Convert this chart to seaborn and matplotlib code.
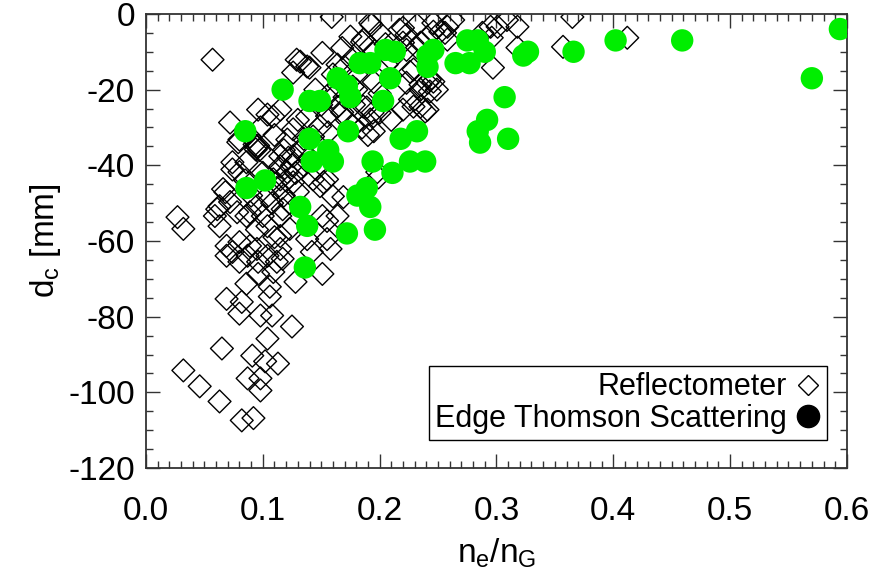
import numpy as np
import pandas as pd
import matplotlib
matplotlib.use("Agg")
import matplotlib.pyplot as plt
import seaborn as sns
from matplotlib.lines import Line2D

sns.set_style("ticks")
plt.rcParams.update({
    "font.family": ["Liberation Sans", "DejaVu Sans"],
    "mathtext.default": "regular",
    "axes.unicode_minus": False,
    "text.color": "black",
    "axes.labelcolor": "black",
    "xtick.color": "black",
    "ytick.color": "black",
})

# Reflectometer (open diamonds): n_e/n_G, d_c [mm]
refl_x = [0.057, 0.159, 0.193, 0.220, 0.232, 0.246, 0.258, 0.263, 0.295, 0.132,
          0.151, 0.140, 0.164, 0.185, 0.192, 0.206, 0.223, 0.241, 0.226, 0.241,
          0.229, 0.241, 0.194, 0.189, 0.177, 0.096, 0.104, 0.115, 0.072, 0.080,
          0.093, 0.095, 0.097, 0.094, 0.096, 0.121, 0.126, 0.138, 0.149, 0.156,
          0.143, 0.074, 0.080, 0.115, 0.121, 0.126, 0.115, 0.109, 0.126, 0.143,
          0.149, 0.068, 0.063, 0.078, 0.027, 0.032, 0.059, 0.063, 0.089, 0.100,
          0.104, 0.115, 0.155, 0.169, 0.151, 0.198, 0.069, 0.089, 0.115, 0.155,
          0.069, 0.080, 0.087, 0.096, 0.104, 0.112, 0.117, 0.096, 0.086, 0.109,
          0.106, 0.106, 0.128, 0.151, 0.142, 0.158, 0.069, 0.082, 0.080, 0.098,
          0.108, 0.125, 0.104, 0.065, 0.091, 0.102, 0.113, 0.032, 0.087, 0.098,
          0.098, 0.046, 0.063, 0.082, 0.092, 0.365, 0.357, 0.412, 0.309, 0.318,
          0.297, 0.296, 0.318, 0.258, 0.252, 0.223, 0.232, 0.246, 0.239, 0.226,
          0.235, 0.243, 0.288, 0.079, 0.074, 0.086, 0.066, 0.061, 0.072, 0.086,
          0.095, 0.104, 0.115, 0.117, 0.123, 0.138, 0.160, 0.146, 0.155, 0.164,
          0.080, 0.095, 0.074, 0.115, 0.192, 0.186, 0.217, 0.246, 0.256, 0.220,
          0.235, 0.194, 0.229, 0.223, 0.235, 0.243, 0.249, 0.235, 0.220, 0.200,
          0.186, 0.192, 0.177, 0.158, 0.164, 0.301, 0.129, 0.138, 0.126, 0.109,
          0.089, 0.199, 0.152, 0.118, 0.122, 0.125, 0.128, 0.120, 0.130, 0.112,
          0.118, 0.108, 0.123, 0.133, 0.135, 0.140, 0.170, 0.168, 0.172, 0.178,
          0.180, 0.176, 0.170, 0.180, 0.165, 0.160, 0.185, 0.190, 0.195, 0.200,
          0.205, 0.210, 0.200, 0.175, 0.168, 0.160, 0.145, 0.150, 0.155, 0.100,
          0.105, 0.110, 0.098, 0.085, 0.090, 0.095, 0.110, 0.130, 0.135, 0.195,
          0.210]
refl_y = [-12.1, -0.8, -2.9, -3.7, -2.9, -4.7, -3.4, -1.6, -3.4, -12.6,
          -10.3, -14.2, -13.4, -7.4, -8.7, -13.4, -9.5, -6.1, -15.3, -18.2,
          -24.5, -25.3, -26.1, -24.7, -19.2, -25.3, -26.6, -25.3, -28.7, -33.2,
          -34.5, -35.0, -36.0, -35.8, -34.8, -33.2, -30.5, -27.1, -29.7, -31.3,
          -32.4, -39.2, -41.8, -40.3, -41.8, -37.6, -37.6, -43.7, -44.5, -43.7,
          -45.5, -47.1, -50.8, -52.4, -53.7, -56.8, -53.4, -56.1, -52.4, -53.4,
          -56.1, -53.4, -54.7, -48.4, -53.4, -41.8, -61.3, -61.3, -58.7, -59.5,
          -63.9, -65.5, -63.9, -65.5, -63.9, -65.5, -64.7, -68.7, -71.3, -68.2,
          -72.1, -74.7, -70.8, -68.7, -62.9, -62.1, -75.3, -76.1, -79.2, -79.7,
          -79.7, -82.6, -85.8, -88.4, -90.3, -91.8, -92.4, -94.2, -96.3, -96.3,
          -99.5, -98.4, -102.4, -107.4, -106.8, -0.8, -8.7, -6.3, -1.6, -3.4,
          -14.2, -6.3, -8.9, -6.8, -4.7, -5.5, -8.9, -17.9, -25.8, -22.6,
          -18.7, -20.5, -5.0, -33.9, -41.1, -39.2, -46.3, -51.6, -49.7, -53.4,
          -50.8, -48.2, -43.7, -51.6, -56.8, -59.5, -48.2, -41.1, -43.7, -53.4,
          -60.3, -62.1, -62.9, -62.1, -2.4, -6.8, -4.2, -2.4, -5.0, -7.6,
          -7.6, -10.3, -14.7, -18.2, -20.0, -17.4, -20.0, -24.5, -25.3, -26.1,
          -24.5, -27.9, -29.7, -20.8, -24.5, -3.4, -12.1, -13.9, -15.5, -27.1,
          -32.4, -43.2, -44.5, -36.0, -38.0, -40.0, -42.0, -44.0, -47.0, -46.0,
          -48.0, -50.0, -50.0, -36.0, -40.0, -38.0, -22.0, -26.0, -28.0, -24.0,
          -16.0, -12.0, -14.0, -20.0, -19.0, -22.0, -30.0, -32.0, -18.0, -21.0,
          -8.0, -12.0, -5.0, -6.0, -9.0, -16.0, -20.0, -24.0, -27.0, -42.0,
          -38.0, -32.0, -30.0, -44.0, -48.0, -57.0, -59.0, -28.0, -33.0, -31.0,
          -28.0]

# Edge Thomson Scattering (filled green circles)
ets_x = [0.085, 0.086, 0.102, 0.117, 0.132, 0.138, 0.136, 0.140, 0.149, 0.140,
         0.142, 0.156, 0.160, 0.164, 0.172, 0.175, 0.173, 0.172, 0.183, 0.192,
         0.205, 0.213, 0.209, 0.203, 0.194, 0.181, 0.189, 0.192, 0.196, 0.211,
         0.218, 0.232, 0.226, 0.239, 0.241, 0.246, 0.241, 0.265, 0.277, 0.275,
         0.284, 0.290, 0.307, 0.292, 0.284, 0.286, 0.310, 0.323, 0.327, 0.366,
         0.402, 0.459, 0.570, 0.594]
ets_y = [-31, -46, -44, -20, -51, -56, -67, -23, -23, -33,
         -39, -36, -39, -17, -19, -22, -31, -58, -13, -13,
         -9.5, -10, -17, -23, -39, -48, -46, -51, -57, -42,
         -33, -31, -39, -39, -11, -9.5, -14, -13, -13, -7,
         -7, -10, -22, -28, -31, -34, -33, -11, -10, -10,
         -7, -7, -17, -4]

df_refl = pd.DataFrame({"ne_nG": refl_x, "dc": refl_y})
df_ets = pd.DataFrame({"ne_nG": ets_x, "dc": ets_y})

fig = plt.figure(figsize=(8.74, 5.8), dpi=100)
ax = fig.add_axes([0.167, 0.193, 0.802, 0.783])

sns.scatterplot(data=df_refl, x="ne_nG", y="dc", ax=ax, marker="D", s=135,
                facecolor="none", edgecolor="black", linewidth=1.0, zorder=2)
sns.scatterplot(data=df_ets, x="ne_nG", y="dc", ax=ax, marker="o", s=260,
                color="#00ee00", edgecolor="none", linewidth=0, zorder=3)

ax.set_xlim(0, 0.6)
ax.set_ylim(-120, 0)
ax.set_xticks(np.arange(0, 0.61, 0.1))
ax.set_xticklabels(["0.0", "0.1", "0.2", "0.3", "0.4", "0.5", "0.6"])
ax.set_yticks(np.arange(-120, 1, 20))
ax.xaxis.set_minor_locator(plt.MultipleLocator(0.01))
ax.yaxis.set_minor_locator(plt.MultipleLocator(5))
ax.tick_params(which="both", direction="in", top=True, right=True,
               color="#333333", width=1)
ax.tick_params(which="major", length=10, labelsize=24)
ax.tick_params(which="minor", length=5)
ax.tick_params(axis="x", which="major", pad=20)
ax.tick_params(axis="y", which="major", pad=8)
for sp in ax.spines.values():
    sp.set_linewidth(1.3)
    sp.set_color("#333333")

ax.set_xlabel("$n_e/n_G$", fontsize=24, labelpad=7)
ax.set_ylabel("$d_c$ [mm]", fontsize=24, labelpad=4)

handles = [
    Line2D([], [], marker="D", linestyle="none", markersize=10,
           markerfacecolor="none", markeredgecolor="black", markeredgewidth=1.0),
    Line2D([], [], marker="o", linestyle="none", markersize=16,
           markerfacecolor="black", markeredgecolor="black"),
]
leg = ax.legend(handles, ["Reflectometer", "Edge Thomson Scattering"],
                loc="lower right", bbox_to_anchor=(0.971, 0.062),
                borderaxespad=0, markerfirst=False, fontsize=22,
                frameon=True, fancybox=False, framealpha=1, edgecolor="black",
                handlelength=0.8, handletextpad=0.3, labelspacing=0.05,
                borderpad=0.2)
leg.get_frame().set_linewidth(1.0)

fig.savefig("out.png", dpi=100)
